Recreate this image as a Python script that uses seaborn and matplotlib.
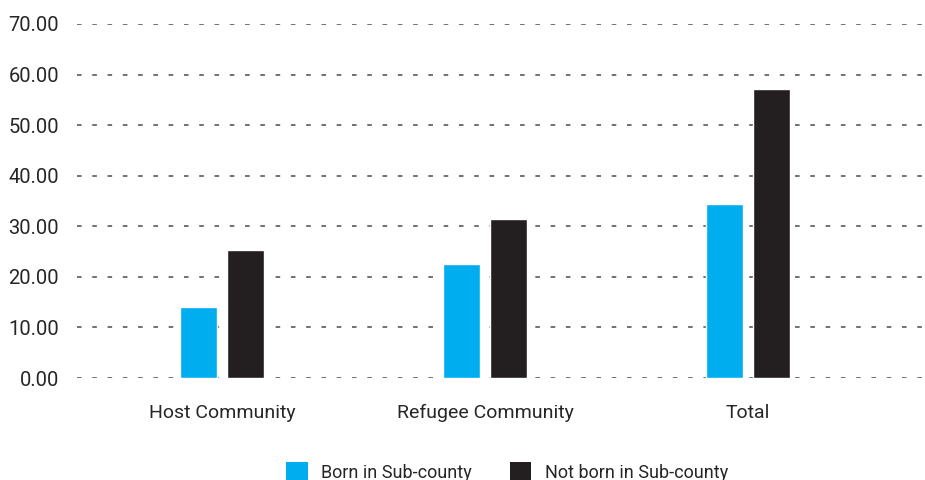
import matplotlib
matplotlib.use("Agg")
import matplotlib.pyplot as plt
import pandas as pd
import seaborn as sns

categories = ["Host Community", "Refugee Community", "Total"]
series_names = ["Born in Sub-county", "Not born in Sub-county"]
born = [14.0, 22.5, 34.4]
not_born = [25.3, 31.4, 57.1]
y_ticks = [0, 10, 20, 30, 40, 50, 60, 70]
colors = ["#00AEEF", "#231F20"]

df = pd.DataFrame({
    "group": categories * 2,
    "series": [series_names[0]] * 3 + [series_names[1]] * 3,
    "value": born + not_born,
})

sns.set_theme(style="white")
plt.rcParams["font.family"] = ["Roboto", "DejaVu Sans"]
text_color = "#262626"

fig = plt.figure(figsize=(9.25, 4.8), dpi=100)
ax = fig.add_axes([77 / 925, 102 / 480, 846 / 925, 354 / 480])

sns.barplot(data=df, x="group", y="value", hue="series", order=categories,
            hue_order=series_names, palette=colors, width=0.358, gap=0.23,
            saturation=1, errorbar=None, ax=ax, legend=False)

ax.set_ylim(0, 70)
ax.set_xlim(-0.551, 2.665)
ax.set_yticks(y_ticks)
ax.set_yticklabels([f"{t:.2f}" for t in y_ticks])
ax.set_xlabel("")
ax.set_ylabel("")
for s in ax.spines.values():
    s.set_visible(False)
ax.set_axisbelow(True)
ax.yaxis.grid(True, color="#4a4a4a", linewidth=1.1, linestyle=(0, (3, 7)))
ax.xaxis.grid(False)
ax.tick_params(axis="y", length=0, pad=13, labelsize=14.5, labelcolor=text_color)
ax.tick_params(axis="x", length=0, pad=19, labelsize=14, labelcolor=text_color)

handles = [plt.Rectangle((0, 0), 1, 1, facecolor=c, edgecolor="none") for c in colors]
fig.legend(handles, series_names, loc="center", bbox_to_anchor=(507 / 925, 8 / 480),
           ncol=2, frameon=False, fontsize=13, labelcolor=text_color,
           handlelength=1.2, handleheight=1.2, handletextpad=0.75, columnspacing=2.1)

fig.savefig("out.png", dpi=100)
